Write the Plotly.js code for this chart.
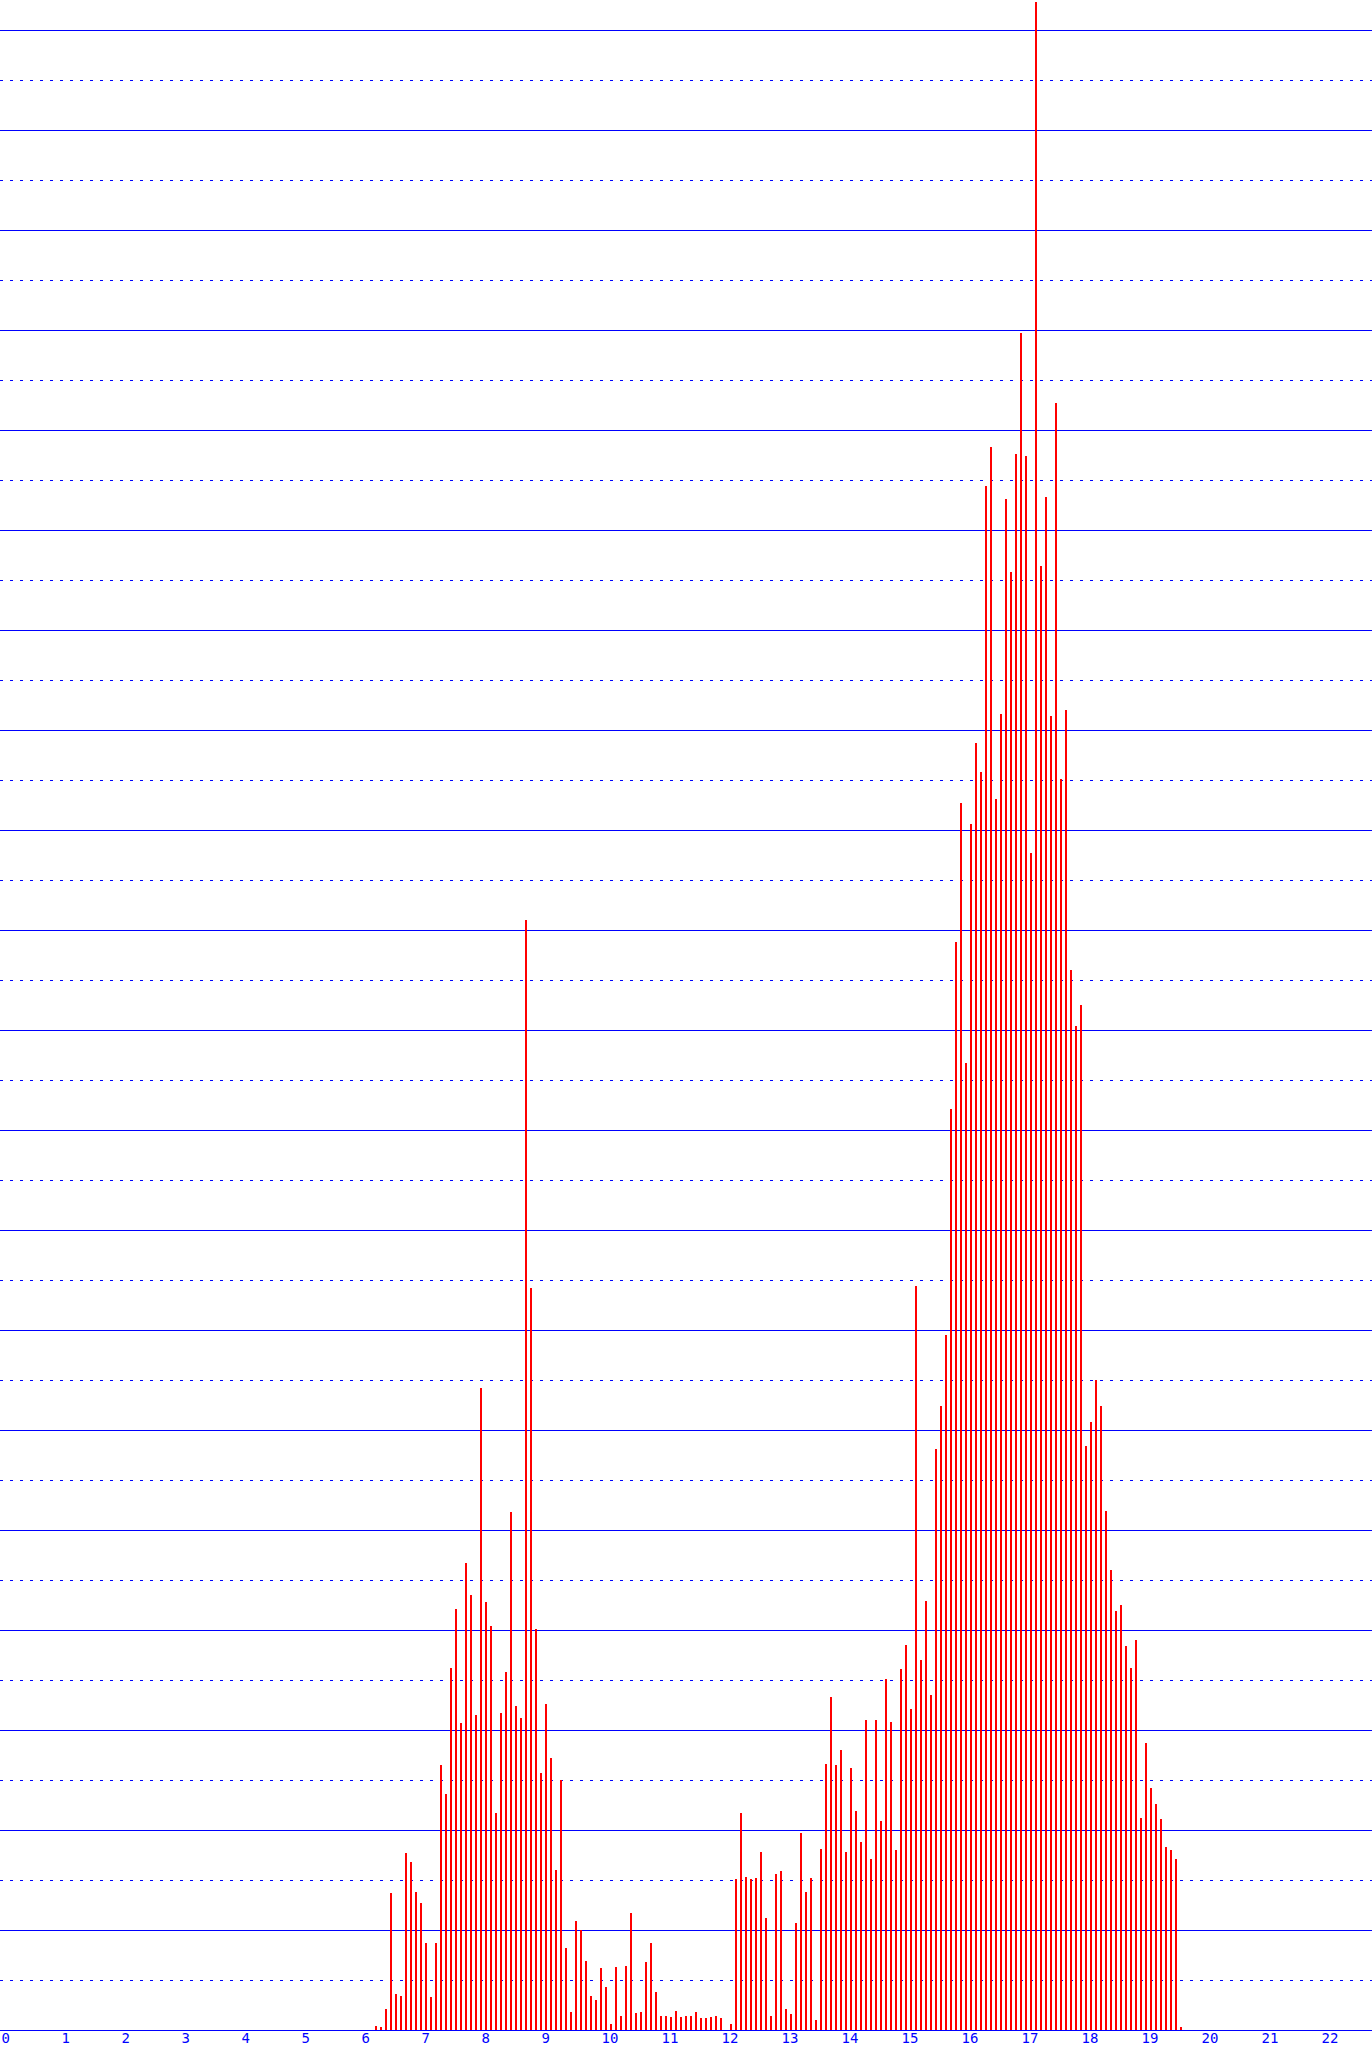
<!DOCTYPE html>
<html>
<head>
<meta charset="utf-8">
<script src="https://cdn.plot.ly/plotly-3.0.1.min.js"></script>
<style>
  html, body { margin: 0; padding: 0; background: #ffffff; }
  #chart { width: 1372px; height: 2050px; }
</style>
</head>
<body>
<div id="chart"></div>
<script>
// Bins are monthly (1/12 unit wide); first bin index (in months)
const firstMonth = 75;
// Height of each monthly spike (grid units: solid line every 10)
const counts = [
  0.4, 0.3, 2.1, 13.7, 3.6, 3.4, 17.7, 16.8, 13.8, 12.7, 8.7, 3.3,
  8.7, 26.5, 23.6, 36.2, 42.1, 30.7, 46.7, 43.5, 31.5, 64.2, 42.8, 40.4,
  21.7, 31.7, 35.8, 51.8, 32.4, 31.2, 111.0, 74.2, 40.1, 25.7, 32.6, 27.2,
  16.0, 25.0, 8.2, 1.8, 10.9, 10.0, 6.9, 3.4, 3.0, 6.2, 4.3, 0.6,
  6.3, 1.4, 6.4, 11.7, 1.7, 1.8, 6.8, 8.7, 3.8, 1.4, 1.4, 1.3,
  1.9, 1.3, 1.4, 1.4, 1.8, 1.2, 1.2, 1.3, 1.4, 1.2, 0, 0.6,
  15.1, 21.7, 15.3, 15.1, 15.2, 17.8, 11.2, 1.4, 15.6, 15.9, 2.1, 1.6,
  10.7, 19.7, 13.8, 15.2, 1.0, 18.1, 26.6, 33.3, 26.5, 28.0, 17.8, 26.2,
  21.9, 18.8, 31.0, 17.1, 31.0, 20.9, 35.1, 30.8, 18.0, 36.1, 38.5, 32.1,
  74.4, 37.0, 42.9, 33.5, 58.1, 62.4, 69.5, 92.1, 108.8, 122.7, 96.7, 120.6,
  128.7, 125.8, 154.4, 158.3, 123.1, 131.6, 153.1, 145.8, 157.6, 169.7, 157.4, 117.7,
  202.8, 146.4, 153.3, 131.4, 162.7, 125.1, 132.0, 106.0, 100.4, 102.5, 58.4, 60.8,
  65.0, 62.4, 51.9, 46.0, 41.9, 42.5, 38.4, 36.2, 39.0, 21.2, 28.7, 24.2,
  22.6, 21.1, 18.3, 18.0, 17.1, 0.3
];
const tickValues = [0,1,2,3,4,5,6,7,8,9,10,11,12,13,14,15,16,17,18,19,20,21,22];
const tickLabels = ["0","1","2","3","4","5","6","7","8","9","10","11","12","13","14","15","16","17","18","19","20","21","22"];

const xs = counts.map((_, i) => (firstMonth + i) / 12);

const trace = {
  type: 'bar',
  x: xs,
  y: counts,
  width: 1 / 30,
  marker: { color: '#ff0000', line: { width: 0 } },
  hoverinfo: 'skip'
};

const layout = {
  width: 1372,
  height: 2050,
  margin: { l: 0, r: 0, t: 0, b: 20, pad: 0 },
  paper_bgcolor: '#ffffff',
  plot_bgcolor: '#ffffff',
  showlegend: false,
  bargap: 0,
  xaxis: {
    range: [-1 / 60, 1371 / 60],
    tickmode: 'array',
    tickvals: tickValues,
    ticktext: tickLabels,
    ticklabelposition: 'outside right',
    ticklabelstandoff: -5,
    ticklabeloverflow: 'allow',
    ticks: '',
    showgrid: false,
    zeroline: false,
    showline: true,
    linecolor: '#0000ff',
    linewidth: 1,
    automargin: false,
    tickfont: { family: 'DejaVu Sans Mono, monospace', size: 14, color: '#0000ff' }
  },
  yaxis: {
    range: [0, 203],
    dtick: 10,
    tick0: 0,
    showticklabels: false,
    ticks: '',
    showgrid: true,
    gridcolor: '#0000ff',
    gridwidth: 1,
    zeroline: false,
    showline: false,
    automargin: false,
    minor: {
      dtick: 5,
      tick0: 0,
      showgrid: true,
      gridcolor: '#0000ff',
      gridwidth: 1,
      griddash: '3px,7px',
      ticks: ''
    }
  }
};

Plotly.newPlot('chart', [trace], layout, { displayModeBar: false, staticPlot: true });
</script>
</body>
</html>
